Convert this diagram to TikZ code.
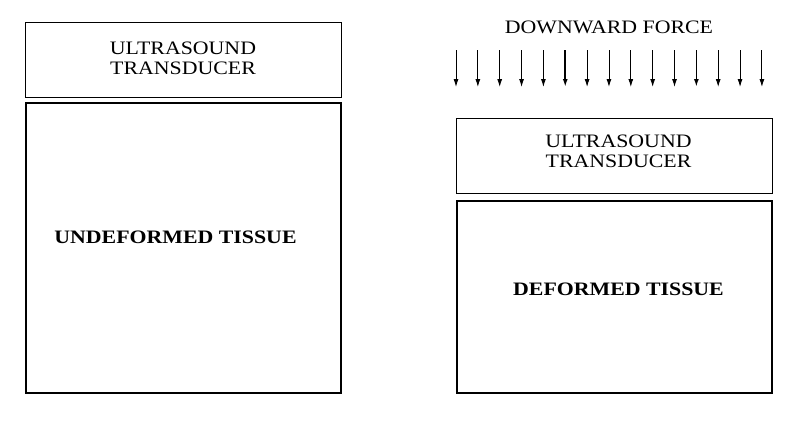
\documentclass[tikz,border=0pt]{standalone}
\usepackage{fontspec}
\setmainfont{Liberation Serif}
\usetikzlibrary{arrows.meta}

\tikzset{
  probebox/.style={draw, line width=0.9pt, minimum width=316pt, minimum height=75pt, inner sep=0pt},
  tissuebox/.style={draw, line width=2pt, minimum width=315pt, inner sep=0pt},
  lbl/.style={font=\fontsize{19}{20}\selectfont, align=center, inner sep=0pt, xscale=1.15},
  blbl/.style={font=\fontsize{19}{20}\selectfont\bfseries, inner sep=0pt, xscale=1.15},
  force/.style={line width=0.9pt, -{Latex[length=8pt,width=5pt]}}
}

\begin{document}
\begin{tikzpicture}[x=1pt,y=-1pt]
\useasboundingbox (0,0) rectangle (799,421);
% before compression
\node[probebox] (probeL) at (183,59.5) {};
\node[lbl] (probeLtxt) at (183,58) {ULTRASOUND\\TRANSDUCER};
\node[tissuebox, minimum height=290pt] (tissueL) at (183,247.5) {};
\node[blbl] (tissueLtxt) at (175.5,237) {UNDEFORMED TISSUE};
% after compression
\node[lbl] (forcetxt) at (609,27) {DOWNWARD FORCE};
\foreach \i in {0,...,14} {
  \coordinate (top\i) at (456+21.85*\i,50);
  \coordinate (tip\i) at (456+21.85*\i,87);
}
\foreach \i in {0,1,2,3,4,6,7,8,9,10,12,13,14} {
  \draw[force] (top\i) -- (tip\i);
}
\foreach \i in {5,11} {
  \draw[force, line width=1.6pt] (top\i) -- (tip\i);
}
\node[probebox] (probeR) at (614,155.5) {};
\node[lbl] (probeRtxt) at (618.5,151) {ULTRASOUND\\TRANSDUCER};
\node[tissuebox, minimum height=192pt] (tissueR) at (614,296.5) {};
\node[blbl] (tissueRtxt) at (618.5,289) {DEFORMED TISSUE};
\end{tikzpicture}
\end{document}
